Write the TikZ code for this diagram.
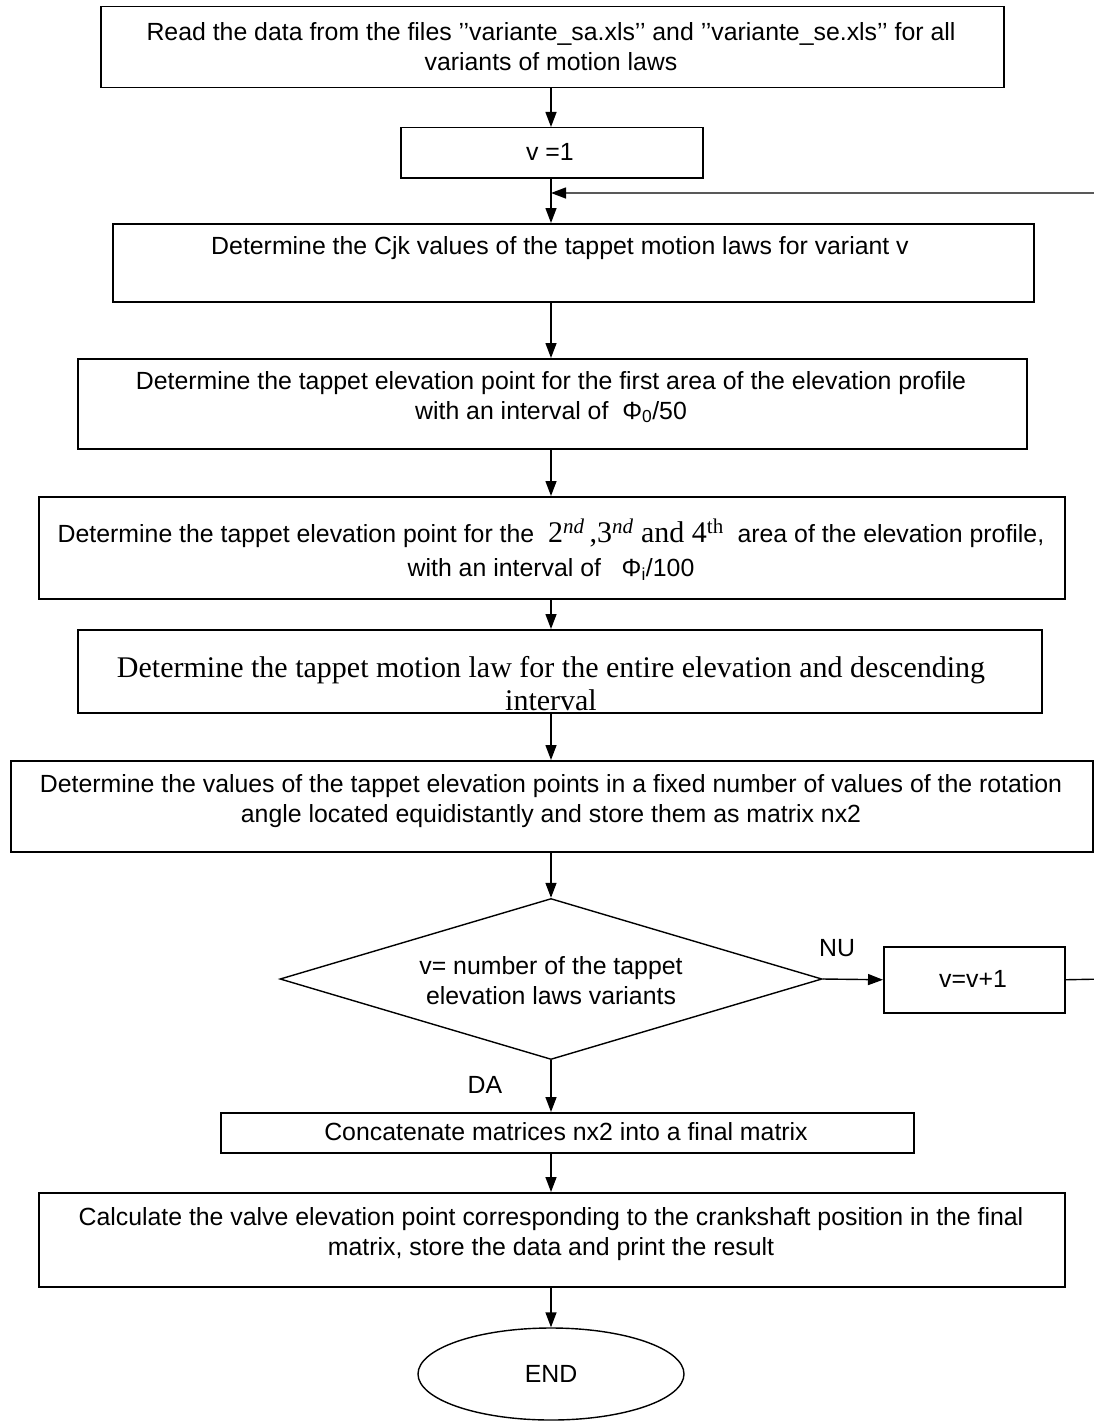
\documentclass[tikz,border=0pt]{standalone}
\usepackage{fontspec}
\setmainfont{Liberation Sans}
\newfontfamily\tnrfont{Liberation Serif}
\usetikzlibrary{arrows.meta,shapes.geometric}
\begin{document}
\begin{tikzpicture}[x=1pt,y=-1pt,
  box/.style={draw, line width=1.5pt, rectangle, inner sep=0pt, anchor=north west},
  txt/.style={align=center, inner sep=0pt, font=\fontsize{24.85}{30}\selectfont},
  stxt/.style={align=center, inner sep=0pt, font=\tnrfont\fontsize{30}{33}\selectfont},
  conn/.style={line width=1.4pt, -{Triangle[length=15pt,width=11pt]}},
]
\useasboundingbox (0,0) rectangle (1094,1426);
\clip (0,0) rectangle (1094,1426);
\fill[white] (0,0) rectangle (1094,1426);
\coordinate (col) at (551,0);

% boxes
\node[box, minimum width=903pt, minimum height=81pt] (b1) at (100,6) {};
\node[box, minimum width=302pt, minimum height=50pt] (b2) at (400,127) {};
\node[box, minimum width=921pt, minimum height=78pt] (b3) at (112,223) {};
\node[box, minimum width=949pt, minimum height=90pt] (b4) at (77,358) {};
\node[box, minimum width=1026pt, minimum height=102pt] (b5) at (38,496) {};
\node[box, minimum width=964pt, minimum height=83pt] (b6) at (77,629) {};
\node[box, minimum width=1082pt, minimum height=91pt] (b7) at (10,760) {};
\node[draw, line width=1.4pt, diamond, inner sep=0pt, minimum width=542pt, minimum height=161pt] (d) at (551,979) {};
\node[box, minimum width=181pt, minimum height=66pt] (bv) at (883,946) {};
\node[box, minimum width=693pt, minimum height=40pt] (b8) at (220,1112) {};
\node[box, minimum width=1026pt, minimum height=94pt] (b9) at (38,1192) {};
\node[draw, line width=1.4pt, ellipse, inner sep=0pt, minimum width=266pt, minimum height=92pt, font=\fontsize{24.85}{30}\selectfont] (e) at (551,1374) {END};

% texts
\node[txt] (t1) at (551,47) {Read the data from the files ’’variante\_sa.xls’’ and ’’variante\_se.xls’’ for all\\variants of motion laws};
\node[txt] (t2) at (550,152) {v =1};
\node[txt] (t3) at (560,248) {Determine the Cjk values of the tappet motion laws for variant v};
\node[txt] (t4) at (551,397) {Determine the tappet elevation point for the first area of the elevation profile\\with an interval of \ Φ\textsubscript{0}/50};
\node[txt] (t5) at (551,550) {Determine the tappet elevation point for the \ {\tnrfont\fontsize{30}{30}\selectfont 2\textsuperscript{\itshape nd}\,,3\textsuperscript{\itshape nd} and 4\textsuperscript{th}} \ area of the elevation profile,\\[4pt]with an interval of \ \ Φ\textsubscript{i}/100};
\node[stxt] (t6) at (551,684) {Determine the tappet motion law for the entire elevation and descending\\interval};
\node[txt] (t7) at (551,801) {Determine the values of the tappet elevation points in a fixed number of values of the rotation\\angle located equidistantly and store them as matrix nx2};
\node[txt] (td) at (551,981) {v= number of the tappet\\elevation laws variants};
\node[txt] (tv) at (973,979) {v=v+1};
\node[txt] (nu) at (837,948) {NU};
\node[txt] (da) at (485,1085) {DA};
\node[txt] (t8) at (566,1132) {Concatenate matrices nx2 into a final matrix};
\node[txt] (t9) at (551,1234) {Calculate the valve elevation point corresponding to the crankshaft position in the final\\matrix, store the data and print the result};

% connectors
\coordinate (fb) at (551,193);
\coordinate (loopr) at (1104,979);
\draw[conn] (b1.south -| col) -- (b2.north -| col);
\draw[conn] (b2.south -| col) -- (b3.north -| col);
\draw[conn] (b3.south -| col) -- (b4.north -| col);
\draw[conn] (b4.south -| col) -- (b5.north -| col);
\draw[conn] (b5.south -| col) -- (b6.north -| col);
\draw[conn] (b6.south -| col) -- (b7.north -| col);
\draw[conn] (b7.south -| col) -- (d.north);
\draw[conn] (d.east) -- (bv.west);
\draw[conn] (bv.east) -- (loopr) |- (fb);
\draw[conn] (d.south) -- (b8.north -| col);
\draw[conn] (b8.south -| col) -- (b9.north -| col);
\draw[conn] (b9.south -| col) -- (e.north);
\end{tikzpicture}
\end{document}
